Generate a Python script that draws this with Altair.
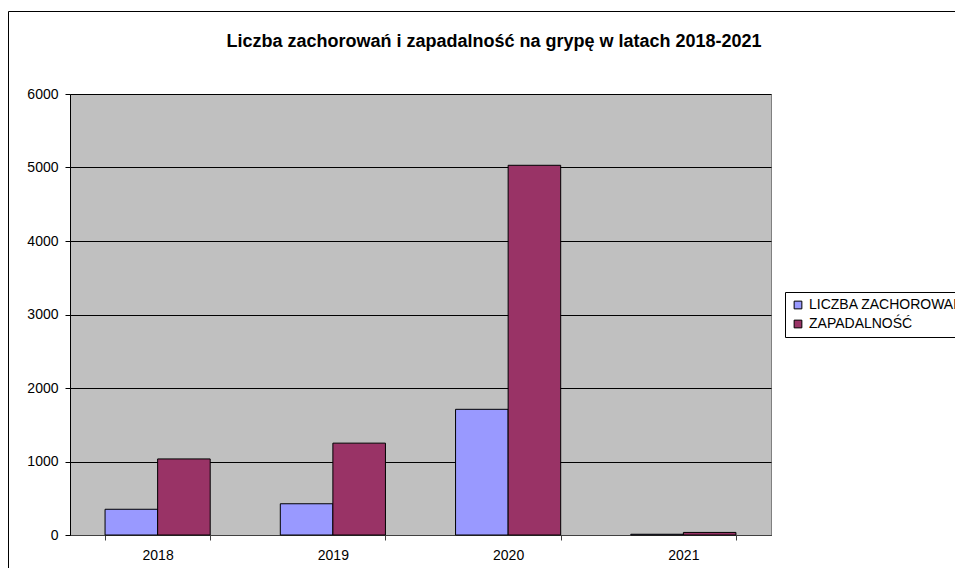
import altair as alt
import pandas as pd

years = ["2018", "2019", "2020", "2021"]
series = ["LICZBA ZACHOROWAŃ", "ZAPADALNOŚĆ"]
liczba = [350, 425, 1710, 10]
zapadalnosc = [1035, 1250, 5030, 35]
colors = ["#9999FF", "#993366"]
y_ticks = [0, 1000, 2000, 3000, 4000, 5000, 6000]
title_text = ["Liczba zachorowań i zapadalność na grypę w latach 2018-2021"]

rows = []
for i, yr in enumerate(years):
    rows.append({"Rok": yr, "Seria": series[0], "Wartosc": liczba[i]})
    rows.append({"Rok": yr, "Seria": series[1], "Wartosc": zapadalnosc[i]})
df = pd.DataFrame(rows)

FONT = "Liberation Sans"

bars = alt.Chart(df).mark_bar(stroke="black", strokeWidth=1).encode(
    x=alt.X("Rok:N", sort=years,
            scale=alt.Scale(paddingInner=0.4, paddingOuter=0.2),
            axis=alt.Axis(title=None, labelAngle=0, tickBand="extent",
                          labelFont=FONT, labelFontSize=14, labelColor="black",
                          tickColor="#404040", tickSize=5, domainColor="#404040",
                          labelPadding=8, grid=False)),
    xOffset=alt.XOffset("Seria:N", sort=series),
    y=alt.Y("Wartosc:Q",
            scale=alt.Scale(domain=[0, 6000], nice=False),
            axis=alt.Axis(title=None, values=y_ticks, format="d", grid=True,
                          gridColor="black", gridWidth=1, labelFont=FONT,
                          labelFontSize=14, labelColor="black", tickColor="black",
                          tickSize=5, domainColor="black", labelPadding=7)),
    color=alt.Color("Seria:N",
                    scale=alt.Scale(domain=series, range=colors),
                    legend=alt.Legend(title=None, orient="none", legendX=715, legendY=198,
                                      strokeColor="black", fillColor="white",
                                      padding=6, symbolType="square",
                                      symbolStrokeColor="black", symbolStrokeWidth=1,
                                      symbolSize=60, labelFont=FONT, labelFontSize=14,
                                      labelColor="black", rowPadding=5)),
)

border = alt.Chart(pd.DataFrame({"a": [0]})).mark_rect(
    fill=None, stroke="black", strokeWidth=1
).encode(
    x=alt.value(-61.5), x2=alt.value(1000), y=alt.value(-82.5), y2=alt.value(600)
)

title = alt.Chart(pd.DataFrame({"t": title_text})).mark_text(
    font=FONT, fontSize=18, fontWeight="bold", color="black",
    align="center", baseline="alphabetic"
).encode(
    text="t:N", x=alt.value(424), y=alt.value(-47)
)

chart = alt.layer(bars, border, title).properties(
    width=701, height=441,
    autosize=alt.AutoSizeParams(type="none"),
    padding={"left": 62, "top": 86, "right": 184, "bottom": 33},
).configure(background="white").configure_view(
    fill="#C0C0C0", stroke="#808080", strokeWidth=1
)

chart.save("out.html", embed_options={"renderer": "svg", "actions": False})
